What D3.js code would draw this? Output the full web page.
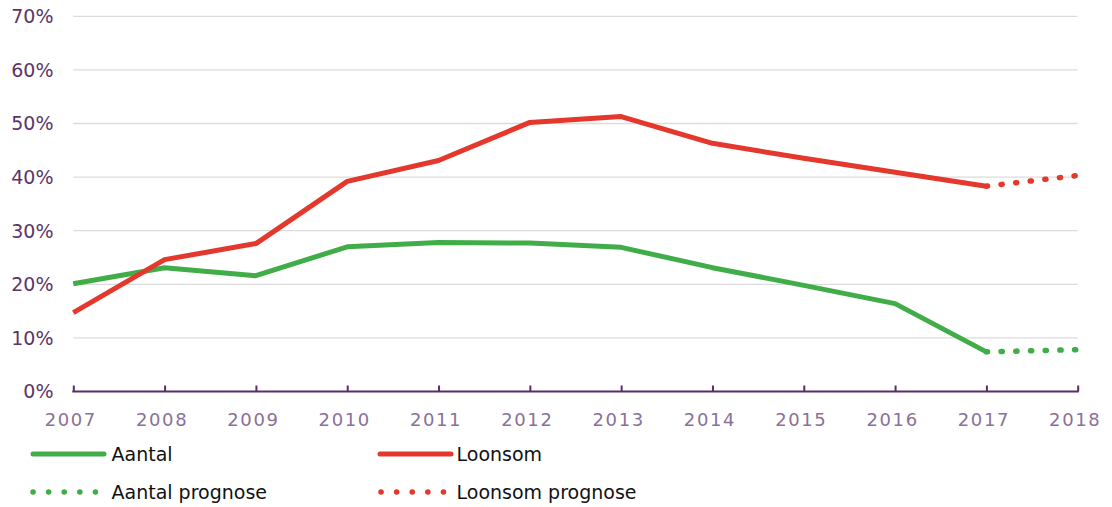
<!DOCTYPE html>
<html><head><meta charset="utf-8">
<script src="https://cdn.jsdelivr.net/npm/d3@7"></script>
<style>
body{margin:0;background:#fff;}
svg{display:block;}
</style></head>
<body><svg id="c" width="1112" height="507"></svg>
<script>
const years = [2007,2008,2009,2010,2011,2012,2013,2014,2015,2016,2017,2018];
const aantal = [20.1,23.1,21.6,27.0,27.8,27.7,26.9,23.1,19.8,16.4,7.4,null];
const aantalPrognose = [null,null,null,null,null,null,null,null,null,null,7.4,7.8];
const loonsom = [14.7,24.6,27.6,39.2,43.1,50.2,51.3,46.3,43.5,40.9,38.3,null];
const loonsomPrognose = [null,null,null,null,null,null,null,null,null,null,38.3,40.3];
const yTicks = [0,10,20,30,40,50,60,70];
const legendItems = [
  {label:"Aantal", color:"#41ad49", dotted:false},
  {label:"Loonsom", color:"#e3382b", dotted:false},
  {label:"Aantal prognose", color:"#41ad49", dotted:true},
  {label:"Loonsom prognose", color:"#e3382b", dotted:true}
];

const svg = d3.select("#c");
const x = d3.scaleLinear().domain([2007,2018]).range([73.3,1077.7]);
const y = d3.scaleLinear().domain([0,70]).range([391.5,16.3]);

// gridlines
svg.append("g").selectAll("line").data(yTicks.filter(d=>d>0)).join("line")
  .attr("x1",x(2007)).attr("x2",x(2018))
  .attr("y1",d=>y(d)).attr("y2",d=>y(d))
  .attr("stroke","#dcdcdc").attr("stroke-width",1.3);

// y labels
svg.append("g").selectAll("text").data(yTicks).join("text")
  .attr("x",53.5).attr("y",d=>y(d)).attr("dy","0.36em")
  .attr("text-anchor","end")
  .attr("font-family","DejaVu Sans, Verdana, sans-serif").attr("font-size",19)
  .attr("fill","#5c3566").text(d=>d+"%");

// x axis
const xAxis = d3.axisTop(x).tickValues(years).tickSize(6).tickFormat("");
const gx = svg.append("g").attr("transform",`translate(0,${y(0)})`).call(xAxis);
gx.select(".domain").remove();
gx.selectAll(".tick line").attr("stroke","#5a2d6a").attr("stroke-width",2);
svg.append("line").attr("x1",x(2007)-1).attr("x2",x(2018)+1)
  .attr("y1",y(0)).attr("y2",y(0)).attr("stroke","#5a2d6a").attr("stroke-width",2.2);

svg.append("g").selectAll("text").data(years).join("text")
  .attr("x",d=>x(d)-2.5).attr("y",426)
  .attr("text-anchor","middle")
  .attr("font-family","DejaVu Sans, Verdana, sans-serif").attr("font-size",18)
  .attr("letter-spacing","1.6px")
  .attr("fill","#8a7197").text(d=>d);

// lines
const line = d3.line().defined(d=>d[1]!=null).x(d=>x(d[0])).y(d=>y(d[1]));
function drawLine(vals,color,dotted){
  const p = svg.append("path").datum(years.map((yr,i)=>[yr,vals[i]]))
    .attr("d",line).attr("fill","none").attr("stroke",color)
    .attr("stroke-width",5).attr("stroke-linejoin","round");
  if(dotted){ p.attr("stroke-dasharray","1.2 13.5").attr("stroke-linecap","round").attr("stroke-width",5.5); }
  return p;
}
drawLine(aantalPrognose,"#41ad49",true);
drawLine(loonsomPrognose,"#e3382b",true);
drawLine(aantal,"#41ad49",false);
drawLine(loonsom,"#e3382b",false);

// legend
const lg = svg.append("g");
const pos = [[33,454],[380,454],[33,492],[381,492]];
legendItems.forEach((it,i)=>{
  const [lx,ly]=pos[i];
  const l = lg.append("line").attr("x1",lx).attr("x2",lx+71).attr("y1",ly).attr("y2",ly)
    .attr("stroke",it.color).attr("stroke-width",5).attr("stroke-linecap","round");
  if(it.dotted){ l.attr("x2",lx+62.5).attr("stroke-dasharray","0.1 15.5").attr("stroke-width",5.5); }
  lg.append("text").attr("x",(i%2? 456.5:111.5)).attr("y",ly).attr("dy","0.36em")
    .attr("font-family","DejaVu Sans, Verdana, sans-serif")
    .attr("font-size",19).attr("fill","#111").text(it.label);
});
</script></body></html>
